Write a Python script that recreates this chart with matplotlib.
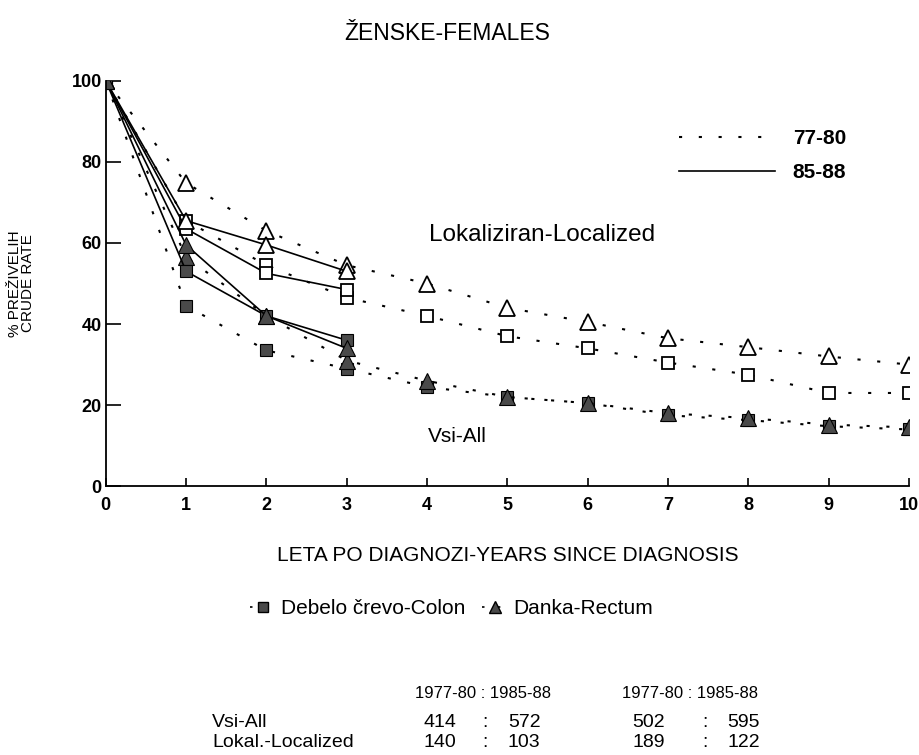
"""Crude survival rates for colon and rectum cancer, females, 77-80 vs 85-88."""
import matplotlib.pyplot as plt
from matplotlib.lines import Line2D

plt.rcParams['font.family'] = ['Liberation Sans', 'DejaVu Sans']

# Years since diagnosis
years_long = [0, 1, 2, 3, 4, 5, 6, 7, 8, 9, 10]
years_short = [0, 1, 2, 3]

# 1977-80 (dotted), % survivors
colon_loc_7780 = [100, 65.5, 54.5, 46.5, 42, 37, 34, 30.5, 27.5, 23, 23]
rectum_loc_7780 = [100, 74.8, 63, 54.5, 50, 44, 40.5, 36.5, 34.3, 32, 30]
colon_all_7780 = [100, 44.5, 33.5, 29, 24.5, 22, 20.5, 17.5, 16.3, 14.8, 14]
rectum_all_7780 = [100, 56.5, 42, 31, 26, 22, 20.5, 18, 16.8, 15.2, 14.5]

# 1985-88 (solid)
colon_loc_8588 = [100, 63.5, 52.5, 48.5]
rectum_loc_8588 = [100, 65.5, 59.5, 53]
colon_all_8588 = [100, 53, 42, 36]
rectum_all_8588 = [100, 59.5, 42, 34]

# Case counts table
table_rows = ['Vsi-All', 'Lokal.-Localized']
colon_counts = [(414, 572), (140, 103)]
rectum_counts = [(502, 595), (189, 122)]

dark = '#4a4a4a'
dots = (0, (1.5, 8))


def main():
    fig = plt.figure(figsize=(9.2, 7.55), dpi=100)
    ax = fig.add_axes([0.115, 0.356, 0.873, 0.537])

    open_sq = dict(marker='s', markersize=9, markerfacecolor='white',
                   markeredgecolor='black', markeredgewidth=1.3)
    open_tri = dict(marker='^', markersize=12, markerfacecolor='white',
                    markeredgecolor='black', markeredgewidth=1.3)
    fill_sq = dict(marker='s', markersize=9, markerfacecolor=dark,
                   markeredgecolor='black', markeredgewidth=0.8)
    fill_tri = dict(marker='^', markersize=12, markerfacecolor=dark,
                    markeredgecolor='black', markeredgewidth=0.8)

    # 77-80, dotted
    ax.plot(years_long, colon_loc_7780, color='black', lw=1.5,
            linestyle=dots, **open_sq)
    ax.plot(years_long, rectum_loc_7780, color='black', lw=1.5,
            linestyle=dots, **open_tri)
    ax.plot(years_long, colon_all_7780, color='black', lw=1.5,
            linestyle=dots, **fill_sq)
    ax.plot(years_long, rectum_all_7780, color='black', lw=1.5,
            linestyle=dots, **fill_tri)

    # 85-88, solid
    ax.plot(years_short, colon_loc_8588, color='black', lw=1.2, **open_sq)
    ax.plot(years_short, rectum_loc_8588, color='black', lw=1.2, **open_tri)
    ax.plot(years_short, colon_all_8588, color='black', lw=1.2, **fill_sq)
    ax.plot(years_short, rectum_all_8588, color='black', lw=1.2, **fill_tri)

    ax.set_xlim(0, 10)
    ax.set_ylim(0, 100)
    ax.set_xticks(range(0, 11))
    ax.set_yticks(range(0, 101, 20))
    ax.spines['top'].set_visible(False)
    ax.spines['right'].set_visible(False)
    ax.spines['left'].set_linewidth(1.3)
    ax.spines['bottom'].set_linewidth(1.3)
    ax.tick_params(axis='x', direction='in', length=6, width=1.2,
                   labelsize=13, pad=8)
    ax.tick_params(axis='y', direction='in', length=11, width=1.2,
                   labelsize=13, pad=3)
    for lab in ax.get_xticklabels() + ax.get_yticklabels():
        lab.set_fontweight('bold')

    ax.set_xlabel('LETA PO DIAGNOZI-YEARS SINCE DIAGNOSIS', fontsize=15)
    ax.xaxis.set_label_coords(0.5, -0.148)
    ax.set_ylabel('% PREŽIVELIH\nCRUDE RATE', fontsize=11,
                  linespacing=0.9)
    ax.yaxis.set_label_coords(-0.088, 0.5)

    ax.text(5.43, 62, 'Lokaliziran-Localized', fontsize=17.5,
            ha='center', va='center')
    ax.text(4.38, 12.3, 'Vsi-All', fontsize=15, ha='center', va='center')

    fig.text(0.486, 0.956, 'ŽENSKE-FEMALES', fontsize=16.5, ha='center',
             va='center')

    # period legend
    period_handles = [Line2D([], [], color='black', lw=1.5, linestyle=dots),
                      Line2D([], [], color='black', lw=1.2)]
    ax.legend(period_handles, ['77-80', '85-88'], loc='upper right',
              bbox_to_anchor=(0.922, 0.88), frameon=False, borderpad=0,
              borderaxespad=0, handlelength=4.6, handletextpad=0.87,
              labelspacing=0.7, prop={'size': 15, 'weight': 'bold'})

    # site legend
    site_handles = [Line2D([], [], color='black', lw=1.2, linestyle=dots,
                           marker='s', markersize=7, markerfacecolor=dark,
                           markeredgecolor='black'),
                    Line2D([], [], color='black', lw=1.2, linestyle=dots,
                           marker='^', markersize=9, markerfacecolor=dark,
                           markeredgecolor='black')]
    fig.legend(site_handles, ['Debelo črevo-Colon', 'Danka-Rectum'],
               loc='center', bbox_to_anchor=(0.491, 0.194), ncol=2,
               frameon=False, handlelength=1.2, handletextpad=0.3,
               columnspacing=0.8, fontsize=15)

    # case count table
    head_y = 0.082
    fig.text(0.451, head_y, '1977-80 : 1985-88', fontsize=12, va='center')
    fig.text(0.676, head_y, '1977-80 : 1985-88', fontsize=12, va='center')
    group_x = [(0.460, 0.524, 0.552), (0.687, 0.763, 0.791)]
    for i, name in enumerate(table_rows):
        y = 0.0437 - i * 0.0278
        fig.text(0.2304, y, name, fontsize=14, va='center')
        for (x0, xc, x1), counts in zip(group_x, (colon_counts[i],
                                                   rectum_counts[i])):
            fig.text(x0, y, str(counts[0]), fontsize=14, va='center')
            fig.text(xc, y, ':', fontsize=14, va='center')
            fig.text(x1, y, str(counts[1]), fontsize=14, va='center')

    fig.savefig('out.png', dpi=100)


if __name__ == '__main__':
    main()
